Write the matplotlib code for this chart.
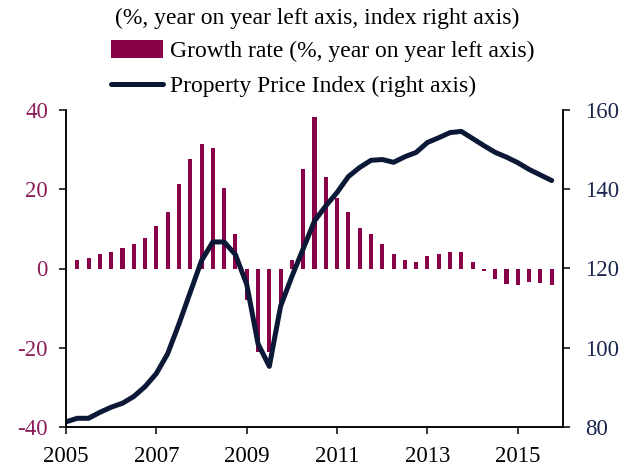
import matplotlib.pyplot as plt

plt.rcParams['font.family'] = ['Liberation Serif', 'DejaVu Serif']
plt.rcParams['axes.unicode_minus'] = False

# quarterly positions (decimal years, quarter ends)
bar_dates = [2005.25 + 0.25 * i for i in range(43)]
line_dates = [2005.0 + 0.25 * i for i in range(44)]

growth = [2.1, 2.6, 3.7, 4.2, 5.2, 6.1, 7.7, 10.7, 14.2, 21.2, 27.7, 31.3,
          30.3, 20.2, 8.7, -8.0, -21.0, -21.0, -9.0, 2.1, 25.2, 38.3, 23.2,
          17.7, 14.2, 10.2, 8.7, 6.2, 3.7, 2.1, 1.6, 3.2, 3.7, 4.2, 4.2, 1.7,
          -0.6, -2.7, -3.8, -4.1, -3.5, -3.7, -4.1]

price_index = [81.3, 82.2, 82.2, 83.7, 85.0, 86.0, 87.7, 90.2, 93.5, 98.5,
               106.0, 114.0, 122.0, 126.7, 126.7, 123.5, 116.0, 101.0, 95.3,
               110.5, 118.0, 125.0, 132.0, 135.8, 139.2, 143.2, 145.5, 147.3,
               147.5, 146.8, 148.2, 149.3, 151.8, 153.0, 154.3, 154.6, 152.8,
               151.0, 149.3, 148.1, 146.7, 145.0, 143.6, 142.2]

year_ticks = [2005, 2007, 2009, 2011, 2013, 2015]
left_ticks = [-40, -20, 0, 20, 40]
right_ticks = [80, 100, 120, 140, 160]

bar_color = '#870048'
line_color = '#0b1836'

fig = plt.figure(figsize=(6.35, 4.68), dpi=100)
ax = fig.add_axes([66 / 635, 1 - 427 / 468, (563 - 66) / 635, (427 - 110) / 468])
ax2 = ax.twinx()

bars = ax.bar(bar_dates, growth, width=0.09, color=bar_color,
              label='Growth rate (%, year on year left axis)')
line, = ax2.plot(line_dates, price_index, color=line_color, lw=3.6,
                 solid_capstyle='round', solid_joinstyle='round',
                 label='Property Price Index (right axis)')

ax.set_xlim(2005, 2016)
ax.set_ylim(-40, 40)
ax2.set_ylim(80, 160)
ax.set_xticks(year_ticks)
ax.set_yticks(left_ticks)
ax2.set_yticks(right_ticks)

for a in (ax, ax2):
    a.spines['top'].set_visible(False)
    for s in a.spines.values():
        s.set_linewidth(1.1)

ax.tick_params(axis='x', direction='out', length=5, width=1.1,
               labelsize=16.5, pad=9)
ax.tick_params(axis='y', direction='out', length=5, width=1.1,
               labelsize=16.5, pad=8, labelcolor='#8c1d5b')
ax2.tick_params(axis='y', direction='out', length=5, width=1.1,
                labelsize=16.5, pad=11, labelcolor='#1b2550')

fig.text(0.5, 1 - 18 / 468, '(%, year on year left axis, index right axis)',
         ha='center', va='center', fontsize=17)

fig.legend(handles=[bars, line], loc='upper left',
           bbox_to_anchor=(111 / 635, 1 - 40 / 468), frameon=False,
           fontsize=17, handlelength=2.2, handleheight=0.8,
           handletextpad=0.3, labelspacing=0.55, borderaxespad=0,
           borderpad=0)

fig.savefig('out.png', dpi=100)
